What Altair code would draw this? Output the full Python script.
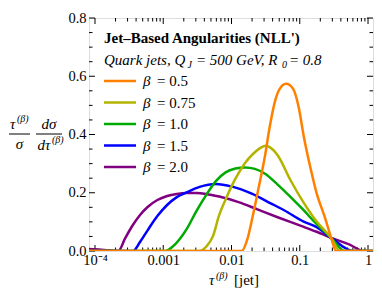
import altair as alt
import pandas as pd

# page layout: plot frame from page x 89..373, y 18..251
OX, OY = 89, 18
W, H = 284, 233

betas = ["0.5", "0.75", "1.0", "1.5", "2.0"]
colors = ["#FF8000", "#B3B300", "#00AA00", "#0000FF", "#800080"]

tau_b05 = [8.0e-5, 0.0142, 0.0169, 0.0206, 0.0251, 0.0306, 0.0361, 0.0425, 0.0501, 0.0631,
           0.0794, 0.0968, 0.114, 0.142, 0.177, 0.233, 0.289, 0.341, 1.25]
y_b05 = [0, 0, 0.037, 0.123, 0.220, 0.320, 0.423, 0.506, 0.554, 0.574,
         0.558, 0.492, 0.396, 0.290, 0.198, 0.116, 0.045, 0, 0]

tau_b075 = [8.0e-5, 0.00339, 0.00425, 0.00535, 0.00659, 0.00824, 0.0102, 0.0127, 0.0158, 0.0206,
            0.0262, 0.0316, 0.0376, 0.0474, 0.0736, 0.114, 0.177, 0.289, 0.385, 1.25]
y_b075 = [0, 0, 0.0145, 0.051, 0.123, 0.178, 0.226, 0.267, 0.302, 0.333,
          0.353, 0.361, 0.354, 0.329, 0.242, 0.166, 0.101, 0.045, 0, 0]

tau_b10 = [8.0e-5, 0.00108, 0.00134, 0.00169, 0.0022, 0.00306, 0.00425, 0.0059, 0.0082, 0.0114,
           0.0158, 0.022, 0.0306, 0.0474, 0.0736, 0.114, 0.177, 0.289, 0.454, 1.25]
y_b10 = [0, 0, 0.0128, 0.037, 0.075, 0.137, 0.192, 0.240, 0.270, 0.283,
         0.287, 0.282, 0.266, 0.228, 0.185, 0.140, 0.092, 0.045, 0, 0]

tau_b15 = [8.0e-5, 0.000361, 0.000454, 0.00059, 0.00082, 0.00114, 0.00158, 0.0022, 0.00341, 0.0059,
           0.0102, 0.0198, 0.0381, 0.059, 0.114, 0.177, 0.289, 0.611, 1.25]
y_b15 = [0, 0, 0.030, 0.071, 0.120, 0.158, 0.185, 0.201, 0.220, 0.230,
         0.221, 0.197, 0.163, 0.140, 0.101, 0.082, 0.045, 0, 0]

tau_b20 = [8.0e-5, 1.0e-4, 1.58e-4, 2.2e-4, 2.77e-4, 3.49e-4, 4.54e-4, 5.9e-4, 8.2e-4, 0.00114,
           0.00158, 0.0022, 0.00306, 0.00425, 0.00659, 0.0127, 0.0245, 0.0474, 0.102, 0.177,
           0.289, 0.53, 0.869, 1.25]
y_b20 = [0.007, 0.006, 0.0025, 0, 0.044, 0.085, 0.123, 0.151, 0.175, 0.189,
         0.196, 0.199, 0.199, 0.196, 0.187, 0.168, 0.142, 0.116, 0.087, 0.066,
         0.045, 0.023, 0, 0]

series_tau = [tau_b05, tau_b075, tau_b10, tau_b15, tau_b20]
series_y = [y_b05, y_b075, y_b10, y_b15, y_b20]

x_major = [1e-4, 1e-3, 1e-2, 1e-1, 1.0]
x_labels = ["10\u207b\u2074", "0.001", "0.01", "0.1", "1"]
x_minor = [2e-4, 3e-4, 4e-4, 5e-4, 6e-4, 7e-4, 8e-4, 9e-4,
           2e-3, 3e-3, 4e-3, 5e-3, 6e-3, 7e-3, 8e-3, 9e-3,
           2e-2, 3e-2, 4e-2, 5e-2, 6e-2, 7e-2, 8e-2, 9e-2,
           0.2, 0.3, 0.4, 0.5, 0.6, 0.7, 0.8, 0.9]
y_major = [0.0, 0.2, 0.4, 0.6, 0.8]
y_minor = [0.05, 0.1, 0.15, 0.25, 0.3, 0.35, 0.45, 0.5, 0.55, 0.65, 0.7, 0.75]

SERIF = "Liberation Serif"

expr = "'" + x_labels[-1] + "'"
for v, lab in reversed(list(zip(x_major[:-1], x_labels[:-1]))):
    expr = f"datum.value < {v * 3} ? '{lab}' : " + expr

xscale = alt.Scale(type="log", domain=[8.17e-5, 1.183], nice=False)
yscale = alt.Scale(domain=[0, 0.8], nice=False, zero=False)
xaxis = alt.Axis(values=x_major, labelExpr=expr, ticks=False, domain=False, grid=False,
                 title="", labelFont=SERIF, labelFontSize=14.5, labelColor="black",
                 labelPadding=2, labelFlush=False)
yaxis = alt.Axis(values=y_major, format=".1f", ticks=False, domain=False, grid=False,
                 title="", labelFont=SERIF, labelFontSize=14.5, labelColor="black",
                 labelPadding=3)

def X(field):
    return alt.X(field, type="quantitative", scale=xscale, axis=xaxis)

def Y(field):
    return alt.Y(field, type="quantitative", scale=yscale, axis=yaxis)

layers = []

def xticks(vals, length):
    d = pd.DataFrame({"v": vals})
    b = alt.Chart(d).mark_rule(color="black", strokeWidth=1).encode(
        x=X("v"), y=alt.value(H), y2=alt.value(H - length))
    t = alt.Chart(d).mark_rule(color="black", strokeWidth=1).encode(
        x=X("v"), y=alt.value(0), y2=alt.value(length))
    return [b, t]

def yticks(vals, length):
    d = pd.DataFrame({"v": vals})
    l = alt.Chart(d).mark_rule(color="black", strokeWidth=1).encode(
        y=Y("v"), x=alt.value(0), x2=alt.value(length))
    r = alt.Chart(d).mark_rule(color="black", strokeWidth=1).encode(
        y=Y("v"), x=alt.value(W), x2=alt.value(W - length))
    return [l, r]

layers += xticks(x_major, 6) + xticks(x_minor, 3.5)
layers += yticks(y_major, 6) + yticks(y_minor, 3.5)

color_scale = alt.Scale(domain=betas, range=colors)

for b, ts, ys in reversed(list(zip(betas, series_tau, series_y))):
    d = pd.DataFrame({"tau": ts, "y": ys, "beta": b})
    layers.append(
        alt.Chart(d).mark_line(strokeWidth=2.5, interpolate="monotone", clip=True).encode(
            x=X("tau"), y=Y("y"),
            color=alt.Color("beta:N", scale=color_scale, legend=None))
    )

def label(txt, px, py, size=15, style="normal", weight="normal", align="left",
          baseline="alphabetic"):
    # px, py given in page pixels
    return alt.Chart(pd.DataFrame({"t": [txt]})).mark_text(
        text=txt, font=SERIF, fontSize=size, fontStyle=style, fontWeight=weight,
        align=align, baseline=baseline, color="black").encode(
        x=alt.value(px - OX), y=alt.value(py - OY))

def hbar(px1, px2, py, color="black", width=1.0):
    return alt.Chart(pd.DataFrame({"t": [0]})).mark_rule(color=color, strokeWidth=width).encode(
        x=alt.value(px1 - OX), x2=alt.value(px2 - OX), y=alt.value(py - OY))

# legend title
layers.append(label("Jet\u2013Based Angularities (NLL')", 104, 38, weight="bold", baseline="middle"))
layers.append(label("Quark jets, Q", 104, 64.5, style="italic"))
layers.append(label("J", 187.5, 68, size=10, style="italic"))
layers.append(label("= 500 GeV, R", 196, 64.5, style="italic"))
layers.append(label("0", 282, 68, size=10, style="italic"))
layers.append(label("= 0.8", 289, 64.5, style="italic"))

# legend entries
for i, (b, c) in enumerate(zip(betas, colors)):
    ry = 81 + 21.5 * i
    layers.append(hbar(104, 136, ry, color=c, width=2.5))
    layers.append(label("\u03b2", 143, ry, style="italic", baseline="middle"))
    layers.append(label("= " + b, 157, ry, baseline="middle"))

# y-axis title
layers.append(label("\u03c4", 10, 129, style="italic"))
layers.append(label("(\u03b2)", 17, 122, size=10, style="italic"))
layers.append(hbar(9, 30, 134))
layers.append(label("\u03c3", 19.5, 149, style="italic", align="center"))
layers.append(label("d\u03c3", 49, 129, style="italic", align="center"))
layers.append(hbar(36, 62, 134))
layers.append(label("d\u03c4", 44, 150, style="italic", align="center"))
layers.append(label("(\u03b2)", 52, 143, size=10, style="italic"))

# x-axis title
layers.append(label("\u03c4", 209, 285, style="italic"))
layers.append(label("(\u03b2)", 216, 278.5, size=10, style="italic"))
layers.append(label("[jet]", 234, 285))

chart = alt.layer(*layers).properties(
    width=W, height=H,
    autosize=alt.AutoSizeParams(type="none"),
    padding={"left": OX - 8, "top": OY - 8, "right": 1, "bottom": 37},
).configure_view(stroke="black", strokeWidth=1).configure(background="white")

chart.save("out.html", embed_options={"renderer": "svg", "actions": False})
